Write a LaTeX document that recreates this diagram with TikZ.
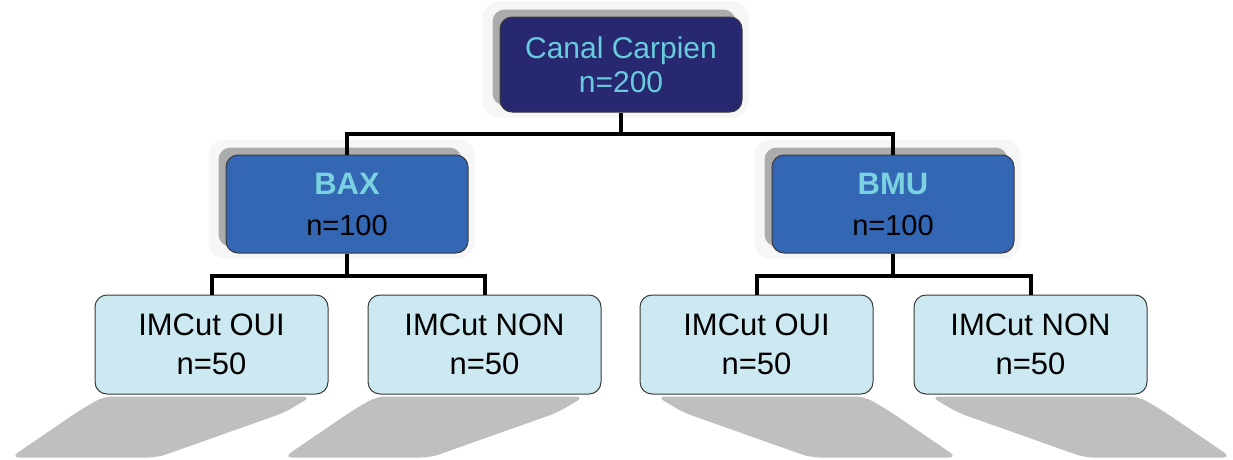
\documentclass[tikz,border=0pt]{standalone}
\usepackage{fontspec}
\setmainfont{Liberation Sans}
\usetikzlibrary{backgrounds}
\definecolor{navy}{RGB}{40,40,112}
\definecolor{cyantxt}{RGB}{104,204,222}
\definecolor{midblue}{RGB}{51,102,179}
\definecolor{baxtxt}{RGB}{122,210,224}
\definecolor{lightbox}{RGB}{204,233,241}
\definecolor{shadowgray}{RGB}{191,191,191}
\definecolor{upshadow}{RGB}{172,172,172}
\definecolor{halo}{RGB}{246,246,246}
\definecolor{edge}{RGB}{58,58,58}
\tikzset{
  boxbase/.style={draw=edge, line width=1pt, rounded corners=12pt, align=center, inner sep=0pt},
  topbox/.style={boxbase, fill=navy, text=cyantxt, minimum width=242pt, minimum height=95pt, font=\fontsize{30}{34}\selectfont},
  midbox/.style={boxbase, fill=midblue, text=black, minimum width=242pt, minimum height=98pt, font=\fontsize{29}{41}\selectfont},
  lowbox/.style={boxbase, fill=lightbox, text=black, minimum width=233pt, minimum height=99pt, font=\fontsize{31}{39}\selectfont},
  conn/.style={draw=black, line width=4pt, line join=miter},
  floorshadow/.style={fill=shadowgray, rounded corners=9pt},
}
\newcommand{\midtitle}[1]{{\fontsize{31}{41}\selectfont\bfseries\textcolor{baxtxt}{#1}}}
\begin{document}
\begin{tikzpicture}[x=1pt,y=-1pt]
\useasboundingbox (0,0) rectangle (1233,459);
% nodes
\node[topbox] (top) at (621,64.5) {Canal Carpien\\n=200};
\node[midbox] (bax) at (347,204) {\midtitle{BAX}\\n=100};
\node[midbox] (bmu) at (893,204) {\midtitle{BMU}\\n=100};
\node[lowbox] (oui1) at (211.5,344.5) {IMCut OUI\\n=50};
\node[lowbox] (non1) at (484.5,344.5) {IMCut NON\\n=50};
\node[lowbox] (oui2) at (756.5,344.5) {IMCut OUI\\n=50};
\node[lowbox] (non2) at (1030.5,344.5) {IMCut NON\\n=50};
% shadows and halos
\begin{scope}[on background layer]
  \foreach \n in {top,bax,bmu}{
    \fill[halo, rounded corners=16pt] ([shift={(-17,-15)}]\n.north west) rectangle ([shift={(6,5)}]\n.south east);
    \fill[upshadow, rounded corners=12pt] ([shift={(-7,-7)}]\n.north west) rectangle ([shift={(-7,-7)}]\n.south east);
  }
  % floor shadows (left pair slant left, right pair slant right)
  \foreach \n in {oui1,non1}{
    \path[floorshadow] ([shift={(-108,2)}]\n.south) -- ([shift={(-132,16)}]\n.south)
      -- ([shift={(-201,63)}]\n.south) -- ([shift={(-54,63)}]\n.south)
      -- ([shift={(73,18)}]\n.south) -- ([shift={(100,2)}]\n.south) -- cycle;
  }
  \foreach \n in {oui2,non2}{
    \path[floorshadow] ([shift={(108,2)}]\n.south) -- ([shift={(132,16)}]\n.south)
      -- ([shift={(201,63)}]\n.south) -- ([shift={(54,63)}]\n.south)
      -- ([shift={(-73,18)}]\n.south) -- ([shift={(-100,2)}]\n.south) -- cycle;
  }
\end{scope}
% connectors
\draw[conn] (top.south) -- ++(0,21) coordinate (j0);
\draw[conn] (bax.north) |- (j0) -| (bmu.north);
\draw[conn] (bax.south) -- ++(0,22) coordinate (j1);
\draw[conn] (oui1.north) |- (j1) -| (non1.north);
\draw[conn] (bmu.south) -- ++(0,22) coordinate (j2);
\draw[conn] (oui2.north) |- (j2) -| (non2.north);
\end{tikzpicture}
\end{document}
